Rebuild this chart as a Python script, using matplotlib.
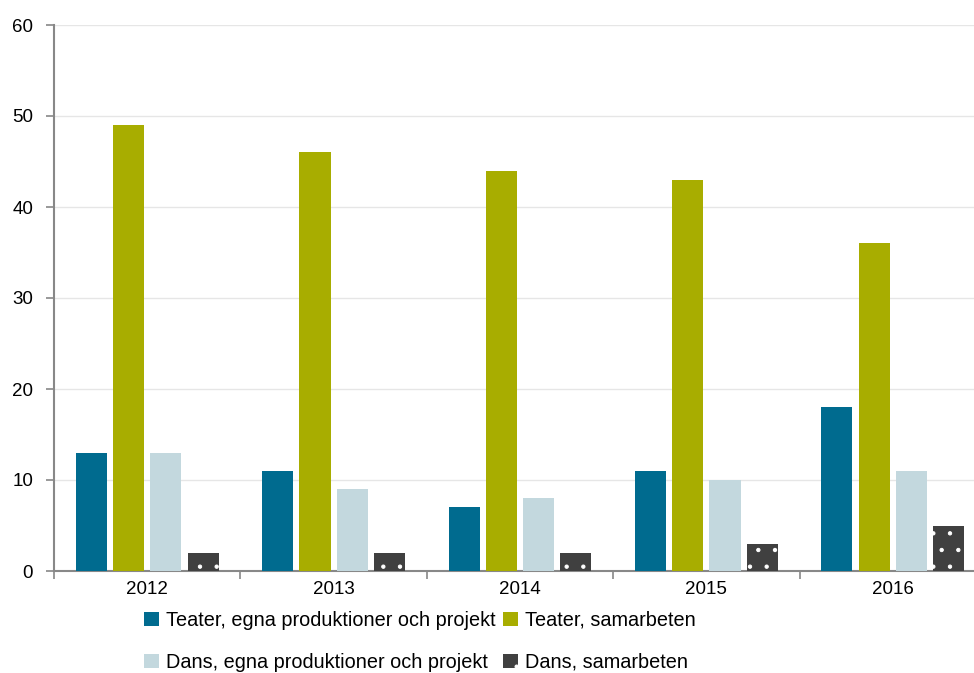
import matplotlib.pyplot as plt
import numpy as np

plt.rcParams['font.family'] = ['Liberation Sans', 'DejaVu Sans']
plt.rcParams['hatch.color'] = 'white'
plt.rcParams['hatch.linewidth'] = 0.7

years = ['2012', '2013', '2014', '2015', '2016']
teater_egna = [13, 11, 7, 11, 18]
teater_samarb = [49, 46, 44, 43, 36]
dans_egna = [13, 9, 8, 10, 11]
dans_samarb = [2, 2, 2, 3, 5]

series = [
    ('Teater, egna produktioner och projekt', teater_egna, '#006b8f', None),
    ('Teater, samarbeten', teater_samarb, '#a8ad00', None),
    ('Dans, egna produktioner och projekt', dans_egna, '#c3d8de', None),
    ('Dans, samarbeten', dans_samarb, '#404040', '.'),
]

fig = plt.figure(figsize=(9.74, 6.73), dpi=100)
ax = fig.add_axes([54 / 974, 1 - 571 / 673, 932 / 974, 546 / 673])

x = np.arange(len(years))
w = 0.167
step = 0.2
handles = []
for i, (name, vals, col, hatch) in enumerate(series):
    off = (i - 1.5) * step
    b = ax.bar(x + off, vals, w, color=col, hatch=hatch, linewidth=0, label=name, zorder=3)
    handles.append(b)

ax.set_xlim(-0.5, len(years) - 0.5)
ax.set_ylim(0, 60)
ax.set_yticks(range(0, 61, 10))
ax.set_xticks(x)
ax.set_xticklabels(years)
ax.set_xticks(np.arange(-0.5, len(years)), minor=True)
ax.tick_params(axis='x', which='major', length=0, pad=7, labelsize=13.5)
ax.tick_params(axis='x', which='minor', length=6, color='#888888', width=1.2)
ax.tick_params(axis='y', length=6, color='#888888', width=1.2, labelsize=13.5, pad=9)
ax.grid(axis='y', color='#e6e6e6', linewidth=1, zorder=0)

for s in ['top', 'right']:
    ax.spines[s].set_visible(False)
ax.spines['left'].set_color('#888888')
ax.spines['left'].set_linewidth(1.5)
ax.spines['bottom'].set_color('#888888')
ax.spines['bottom'].set_linewidth(1.5)

order = [0, 2, 1, 3]
fig.legend([handles[k] for k in order], [series[k][0] for k in order],
           ncol=2, loc='upper left', bbox_to_anchor=(144 / 974, 1 - 611 / 673),
           frameon=False, fontsize=14.3, handlelength=0.75, handleheight=0.75,
           handletextpad=0.35, columnspacing=0.4, labelspacing=1.15,
           borderaxespad=0, borderpad=0)

fig.savefig('out.png', dpi=100)
